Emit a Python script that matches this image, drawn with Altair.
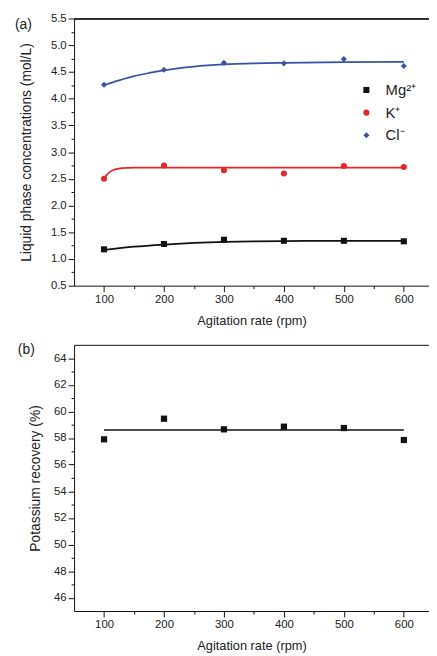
import altair as alt
import pandas as pd

# measured points, panel (a)
rpm = [100, 200, 300, 400, 500, 600]
mg = [1.18, 1.28, 1.36, 1.34, 1.34, 1.33]
k = [2.50, 2.75, 2.66, 2.60, 2.74, 2.72]
cl = [4.26, 4.54, 4.67, 4.66, 4.74, 4.61]

# fitted curves
fit_rpm_mg = [100, 150, 200, 250, 300, 350, 400, 500, 600]
fit_mg = [1.17, 1.23, 1.27, 1.30, 1.32, 1.33, 1.335, 1.34, 1.34]
fit_rpm_k = [100, 105, 110, 115, 120, 130, 150, 600]
fit_k = [2.51, 2.58, 2.63, 2.66, 2.68, 2.70, 2.71, 2.71]
fit_rpm_cl = [100, 125, 150, 175, 200, 250, 300, 350, 400, 500, 600]
fit_cl = [4.25, 4.34, 4.42, 4.48, 4.53, 4.60, 4.64, 4.66, 4.67, 4.685, 4.69]

# panel (b)
recovery = [57.9, 59.45, 58.65, 58.85, 58.75, 57.85]
fit_rpm_rec = [100, 600]
fit_rec = [58.6, 58.6]

ions = ["Mg²⁺", "K⁺", "Cl⁻"]
ion_colors = ["#111111", "#e5262b", "#3a53a5"]
ion_shapes = ["square", "circle", "diamond"]
ion_sizes = [38, 38, 85]

x_ticks = [100, 150, 200, 250, 300, 350, 400, 450, 500, 550, 600]
ya_ticks = [0.5 + 0.25 * i for i in range(21)]
yb_ticks = list(range(46, 65))

FONT = "Liberation Sans"

pts_a = pd.DataFrame({
    "rpm": rpm * 3,
    "conc": mg + k + cl,
    "ion": [ions[0]] * 6 + [ions[1]] * 6 + [ions[2]] * 6,
})
fits_a = [
    pd.DataFrame({"rpm": fit_rpm_mg, "conc": fit_mg}),
    pd.DataFrame({"rpm": fit_rpm_k, "conc": fit_k}),
    pd.DataFrame({"rpm": fit_rpm_cl, "conc": fit_cl}),
]
pts_b = pd.DataFrame({"rpm": rpm, "rec": recovery})
fit_b = pd.DataFrame({"rpm": fit_rpm_rec, "rec": fit_rec})

x_scale = alt.Scale(domain=[50, 642], nice=False)
ya_scale = alt.Scale(domain=[0.5, 5.5], nice=False, zero=False)
yb_scale = alt.Scale(domain=[45, 65], nice=False, zero=False)

bottom_x_axis = alt.Axis(
    values=x_ticks,
    title="Agitation rate (rpm)",
    labelExpr="datum.value % 100 == 0 ? datum.label : ''",
    tickSize={"condition": {"test": "datum.value % 100 == 0", "value": 6}, "value": 3},
    labelPadding=2,
    titlePadding=10,
    labelOverlap=False,
)
top_x_axis = alt.Axis(orient="top", labels=False, ticks=False, title=None)

ya_axis = alt.Axis(
    values=ya_ticks,
    format=".1f",
    title="Liquid phase concentrations (mol/L)",
    labelExpr="(datum.value * 2) % 1 == 0 ? datum.label : ''",
    tickSize={"condition": {"test": "(datum.value * 2) % 1 == 0", "value": 6}, "value": 3},
    labelPadding=2,
    titlePadding=17,
    titleFontSize=14,
    labelOverlap=False,
)
yb_axis = alt.Axis(
    values=yb_ticks,
    title="Potassium recovery (%)",
    labelExpr="datum.value % 2 == 0 ? datum.label : ''",
    tickSize={"condition": {"test": "datum.value % 2 == 0", "value": 6}, "value": 3},
    labelPadding=2,
    titlePadding=11,
    titleFontSize=14,
    labelOverlap=False,
)

ion_legend = alt.Legend(
    title=None,
    orient="none",
    legendX=289,
    legendY=65,
    labelFontSize=15,
    labelFont=FONT,
    labelColor="#222",
    labelOffset=12,
    rowPadding=7,
    padding=0,
)

# ---- panel (a)
a_points = (
    alt.Chart(pts_a)
    .mark_point(filled=True, opacity=1)
    .encode(
        x=alt.X("rpm:Q", scale=x_scale, axis=bottom_x_axis),
        y=alt.Y("conc:Q", scale=ya_scale, axis=ya_axis),
        color=alt.Color("ion:N", scale=alt.Scale(domain=ions, range=ion_colors), legend=ion_legend),
        shape=alt.Shape("ion:N", scale=alt.Scale(domain=ions, range=ion_shapes), legend=ion_legend),
        size=alt.Size("ion:N", scale=alt.Scale(domain=ions, range=ion_sizes), legend=ion_legend),
    )
)

a_fits = [
    alt.Chart(df)
    .mark_line(strokeWidth=1.8, interpolate="monotone", color=c)
    .encode(
        x=alt.X("rpm:Q", scale=x_scale, axis=top_x_axis),
        y=alt.Y("conc:Q", scale=ya_scale, axis=ya_axis),
    )
    for df, c in zip(fits_a, ion_colors)
]

a_label = (
    alt.Chart(pd.DataFrame({"t": ["(a)"]}))
    .mark_text(align="left", baseline="middle", fontSize=14, font=FONT, color="#222")
    .encode(text="t:N", x=alt.value(-60), y=alt.value(7))
)

panel_a = (
    alt.layer(*a_fits, a_points, a_label)
    .resolve_axis(x="independent")
    .properties(width=360, height=271)
)

# ---- panel (b)
b_points = (
    alt.Chart(pts_b)
    .mark_point(filled=True, opacity=1, shape="square", size=40, color="#111111")
    .encode(
        x=alt.X("rpm:Q", scale=x_scale, axis=bottom_x_axis),
        y=alt.Y("rec:Q", scale=yb_scale, axis=yb_axis),
    )
)

b_fit = (
    alt.Chart(fit_b)
    .mark_line(strokeWidth=1.6, color="#111111")
    .encode(
        x=alt.X("rpm:Q", scale=x_scale, axis=top_x_axis),
        y=alt.Y("rec:Q", scale=yb_scale, axis=yb_axis),
    )
)

b_label = (
    alt.Chart(pd.DataFrame({"t": ["(b)"]}))
    .mark_text(align="left", baseline="middle", fontSize=14, font=FONT, color="#222")
    .encode(text="t:N", x=alt.value(-57), y=alt.value(5))
)

panel_b = (
    alt.layer(b_fit, b_points, b_label)
    .resolve_axis(x="independent")
    .properties(width=360, height=270)
)

chart = (
    alt.vconcat(panel_a, panel_b, spacing=15)
    .properties(padding={"left": 7, "top": 0, "right": 0, "bottom": 0})
    .configure_view(stroke=None)
    .configure_axis(
        grid=False,
        domainColor="#111",
        domainWidth=1,
        tickColor="#111",
        labelFont=FONT,
        labelFontSize=11.5,
        labelColor="#222",
        titleFont=FONT,
        titleFontSize=13,
        titleFontWeight="normal",
        titleColor="#222",
    )
)

chart.save("out.html", embed_options={"renderer": "svg", "actions": False})
